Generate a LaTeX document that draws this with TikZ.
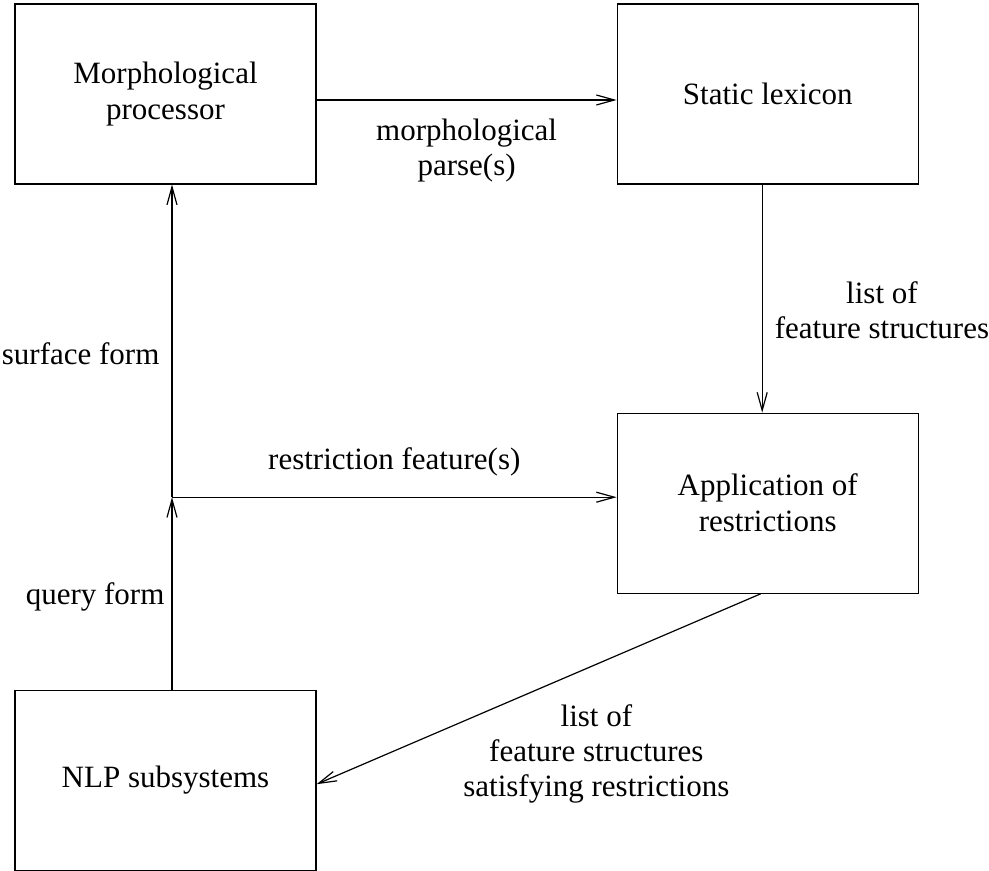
\documentclass[tikz,border=0pt]{standalone}
\usepackage{fontspec}
\setmainfont{Liberation Serif}
\usepackage{tikz}
\usetikzlibrary{positioning, arrows.meta, calc}

\begin{document}
\begin{tikzpicture}[
        node distance = 114pt and 150pt,
        box/.style   = {draw, rectangle, line width=0.6pt, minimum width=150.5pt, minimum height=90pt, align=center, font=\fontsize{15.5}{18}\selectfont},
        lbl/.style   = {inner sep=0pt, align=center, font=\fontsize{15.5}{17.5}\selectfont},
        arrow/.style = {-{Straight Barb[length=9pt, width=5pt]}, line width=0.6pt},
    ]
        \useasboundingbox (-82.75pt,47pt) rectangle (411.75pt,-388.5pt);

        \node[box] (mp) {Morphological\\processor};
        \node[box, right=of mp] (sl) {Static lexicon};
        \node[box, below=of sl] (ar) {Application of\\restrictions};
        \node[box, below=252.5pt of mp] (nlp) {NLP subsystems};

        \coordinate (j) at ($(nlp.north |- ar.west) + (3.25pt,3pt)$);

        \draw[arrow] ([yshift=-3pt]mp.east) -- node[lbl, below=9pt] {morphological\\parse(s)} ([yshift=-3pt]sl.west);
        \draw[arrow] ([xshift=-2.75pt]sl.south) -- node[lbl, right=6pt, pos=0.55] {list of\\feature structures} ([xshift=-2.75pt]ar.north);
        \draw[arrow] (nlp.north -| j) -- node[lbl, left=3.5pt, pos=0.48] {query form} (j);
        \draw[arrow] (j) -- node[lbl, left=6pt, pos=0.46] {surface form} (j |- mp.south);
        \draw[arrow] (j) -- node[lbl, above=10.5pt] {restriction feature(s)} (j -| ar.west);
        \draw[arrow] ([xshift=-3.5pt]ar.south) -- node[lbl, below=20pt, pos=0.37] {list of\\feature structures\\satisfying restrictions} ([yshift=-2pt]nlp.east);
    \end{tikzpicture}
\end{document}
